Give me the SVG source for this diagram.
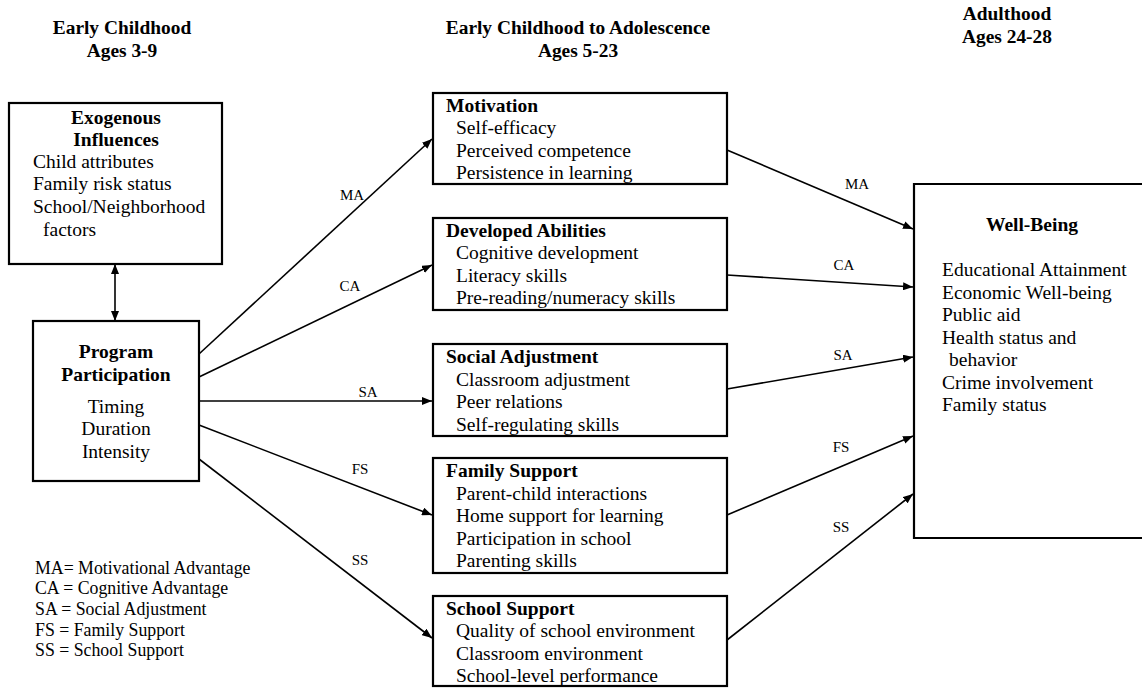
<svg xmlns="http://www.w3.org/2000/svg" width="1142" height="688" viewBox="0 0 1142 688">
<style>
text{font-family:"Liberation Serif","Times New Roman",serif;fill:#000}
.h{font-size:19.4px;font-weight:bold;text-anchor:middle}
.t{font-size:19.5px;font-weight:bold}
.b{font-size:19.5px}
.c{text-anchor:middle}
.l{font-size:15px;text-anchor:middle}
.g{font-size:17.8px}
.box{fill:#fff;stroke:#000;stroke-width:2.2}
.e{stroke:#000;stroke-width:1.6;fill:none;marker-end:url(#ah)}
</style>
<defs>
<marker id="ah" viewBox="0 0 10 8" refX="10" refY="4" markerWidth="10" markerHeight="8" markerUnits="userSpaceOnUse" orient="auto-start-reverse">
<path d="M0,0 L10,4 L0,8 Z" fill="#000"/>
</marker>
</defs>
<rect width="1142" height="688" fill="#fff"/>
<g id="headers">
<text class="h" x="122" y="34">Early Childhood</text>
<text class="h" x="122" y="57">Ages 3-9</text>
<text class="h" x="578" y="34">Early Childhood to Adolescence</text>
<text class="h" x="578" y="57">Ages 5-23</text>
<text class="h" x="1007" y="20">Adulthood</text>
<text class="h" x="1007" y="43">Ages 24-28</text>
</g>
<g id="connectors">
<line x1="115" y1="264" x2="115" y2="321" stroke="#000" stroke-width="1.6" marker-start="url(#ah)" marker-end="url(#ah)"/>
<line class="e" x1="199" y1="354" x2="432" y2="139"/>
<line class="e" x1="199" y1="377" x2="432" y2="265"/>
<line class="e" x1="199" y1="401" x2="432" y2="401"/>
<line class="e" x1="199" y1="425" x2="432" y2="515"/>
<line class="e" x1="199" y1="459" x2="432" y2="638"/>
<line class="e" x1="727" y1="150" x2="913" y2="229"/>
<line class="e" x1="727" y1="275" x2="913" y2="287"/>
<line class="e" x1="727" y1="389" x2="913" y2="357"/>
<line class="e" x1="727" y1="515" x2="913" y2="436"/>
<line class="e" x1="727" y1="640" x2="913" y2="494"/>
<text class="l" x="352" y="200">MA</text>
<text class="l" x="350" y="291">CA</text>
<text class="l" x="368" y="397">SA</text>
<text class="l" x="360" y="474">FS</text>
<text class="l" x="360" y="565">SS</text>
<text class="l" x="857" y="189">MA</text>
<text class="l" x="844" y="270">CA</text>
<text class="l" x="843" y="360">SA</text>
<text class="l" x="841" y="452">FS</text>
<text class="l" x="841" y="532">SS</text>
</g>
<g id="exogenous">
<rect class="box" x="9" y="103" width="213" height="161"/>
<text class="t c" x="116" y="124">Exogenous</text>
<text class="t c" x="116" y="146">Influences</text>
<text class="b" x="33" y="168">Child attributes</text>
<text class="b" x="33" y="190">Family risk status</text>
<text class="b" x="33" y="213">School/Neighborhood</text>
<text class="b" x="43" y="236">factors</text>
</g>
<g id="program">
<rect class="box" x="33" y="321" width="166" height="160"/>
<text class="t c" x="116" y="358">Program</text>
<text class="t c" x="116" y="381">Participation</text>
<text class="b c" x="116" y="413">Timing</text>
<text class="b c" x="116" y="435">Duration</text>
<text class="b c" x="116" y="458">Intensity</text>
</g>
<g id="motivation">
<rect class="box" x="433" y="93" width="294" height="91"/>
<text class="t" x="446" y="112">Motivation</text>
<text class="b" x="456" y="134">Self-efficacy</text>
<text class="b" x="456" y="157">Perceived competence</text>
<text class="b" x="456" y="179">Persistence in learning</text>
</g>
<g id="abilities">
<rect class="box" x="433" y="218" width="294" height="92"/>
<text class="t" x="446" y="237">Developed Abilities</text>
<text class="b" x="456" y="259">Cognitive development</text>
<text class="b" x="456" y="282">Literacy skills</text>
<text class="b" x="456" y="304">Pre-reading/numeracy skills</text>
</g>
<g id="social">
<rect class="box" x="433" y="344" width="294" height="92"/>
<text class="t" x="446" y="363">Social Adjustment</text>
<text class="b" x="456" y="386">Classroom adjustment</text>
<text class="b" x="456" y="408">Peer relations</text>
<text class="b" x="456" y="431">Self-regulating skills</text>
</g>
<g id="family">
<rect class="box" x="433" y="458" width="294" height="115"/>
<text class="t" x="446" y="477">Family Support</text>
<text class="b" x="456" y="500">Parent-child interactions</text>
<text class="b" x="456" y="522">Home support for learning</text>
<text class="b" x="456" y="545">Participation in school</text>
<text class="b" x="456" y="567">Parenting skills</text>
</g>
<g id="school">
<rect class="box" x="433" y="596" width="294" height="90"/>
<text class="t" x="446" y="615">School Support</text>
<text class="b" x="456" y="637">Quality of school environment</text>
<text class="b" x="456" y="660">Classroom environment</text>
<text class="b" x="456" y="682">School-level performance</text>
</g>
<g id="wellbeing">
<path d="M1143,184 H914 V538 H1143" fill="#fff" stroke="#000" stroke-width="2.2"/>
<text class="t c" x="1032" y="231">Well-Being</text>
<text class="b" x="942" y="276">Educational Attainment</text>
<text class="b" x="942" y="299">Economic Well-being</text>
<text class="b" x="942" y="321">Public aid</text>
<text class="b" x="942" y="344">Health status and</text>
<text class="b" x="949" y="366">behavior</text>
<text class="b" x="942" y="389">Crime involvement</text>
<text class="b" x="942" y="411">Family status</text>
</g>
<g id="legend">
<text class="g" x="35" y="574">MA= Motivational Advantage</text>
<text class="g" x="35" y="594">CA = Cognitive Advantage</text>
<text class="g" x="35" y="615">SA = Social Adjustment</text>
<text class="g" x="35" y="636">FS = Family Support</text>
<text class="g" x="35" y="656">SS = School Support</text>
</g>
</svg>
